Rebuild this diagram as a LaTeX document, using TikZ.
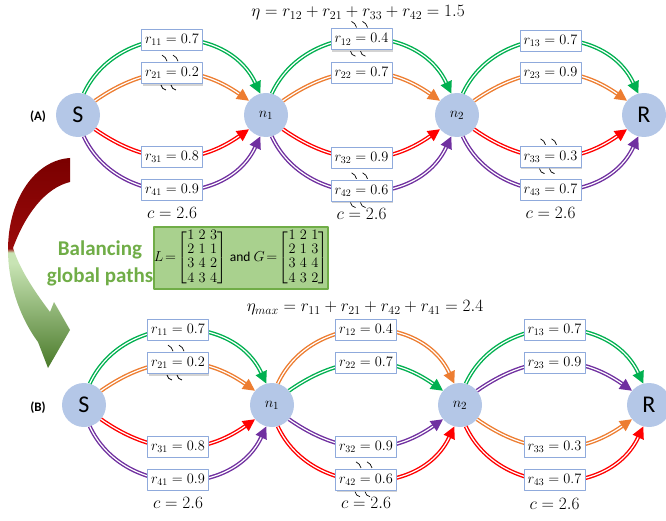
\documentclass[tikz,border=0pt]{standalone}
\usepackage{amsmath}
\usepackage{fontspec}
\setmainfont{Carlito}
\usetikzlibrary{arrows.meta,shadows,positioning}
\definecolor{grn}{HTML}{00B050}
\definecolor{org}{HTML}{ED7D31}
\definecolor{rd}{HTML}{FF0000}
\definecolor{pur}{HTML}{7030A0}
\definecolor{ndfill}{HTML}{B4C7E7}
\definecolor{boxc}{HTML}{8FAADC}
\definecolor{lgrn}{HTML}{A9D18E}
\definecolor{mgrn}{HTML}{70AD47}
\definecolor{dgrn}{HTML}{4A7A2A}
\definecolor{dred}{HTML}{7A0000}
\definecolor{pgrn}{HTML}{C8E4B4}
\definecolor{bred}{HTML}{9A0A0A}
\pgfdeclareverticalshading{bend}{100bp}{color(0bp)=(dgrn); color(25bp)=(dgrn); color(50bp)=(pgrn); color(52.5bp)=(pgrn); color(53.5bp)=(bred); color(75bp)=(dred); color(100bp)=(dred)}
\begin{document}
\begin{tikzpicture}[x=1pt, y=1pt, line join=round,
    nd/.style={circle, fill=ndfill, minimum size=44pt, inner sep=0pt, font=\fontsize{24}{26}\selectfont},
    lbl/.style={draw=boxc, fill=white, line width=0.8pt, inner sep=3.5pt, minimum height=21pt, font=\fontsize{14}{16}\selectfont},
    sel/.style={lbl, drop shadow={shadow xshift=1pt, shadow yshift=-2pt, opacity=.35}},
    ln/.style={draw=#1, line width=1.4pt, double=white, double distance=1.2pt, -{Triangle[length=12pt,width=12pt]}},
    clbl/.style={font=\fontsize{17}{19}\selectfont}]
  \useasboundingbox (0,0) rectangle (666,520);
  % nodes of both networks
  \foreach \nm/\x/\y/\txt in {aS/78/405/S, an1/266/405/{\fontsize{15}{17}\selectfont$n_1$}, an2/457/405/{\fontsize{15}{17}\selectfont$n_2$}, aR/644/405/R,
      bS/84/115/S, bn1/272/115/{\fontsize{15}{17}\selectfont$n_1$}, bn2/460/115/{\fontsize{15}{17}\selectfont$n_2$}, bR/649/115/R}
    \node[nd] (\nm) at (\x,\y) {\txt};
  % outer upper arcs
  \foreach \pa/\pb/\col/\sty/\bx/\txt in {aS/an1/grn/lbl/a11/{r_{11}=0.7}, an1/an2/grn/sel/a12/{r_{12}=0.4}, an2/aR/grn/lbl/a13/{r_{13}=0.7},
      bS/bn1/grn/lbl/b11/{r_{11}=0.7}, bn1/bn2/org/lbl/b12/{r_{12}=0.4}, bn2/bR/grn/lbl/b13/{r_{13}=0.7}}
    \draw[ln=\col] (\pa.75) to[out=65, in=115, looseness=1.14] node[\sty] (\bx) {$\txt$} (\pb.105);
  % inner upper arcs
  \foreach \pa/\pb/\col/\sty/\bx/\txt in {aS/an1/org/sel/a21/{r_{21}=0.2}, an1/an2/org/lbl/a22/{r_{22}=0.7}, an2/aR/org/lbl/a23/{r_{23}=0.9},
      bS/bn1/org/sel/b21/{r_{21}=0.2}, bn1/bn2/grn/lbl/b22/{r_{22}=0.7}, bn2/bR/pur/lbl/b23/{r_{23}=0.9}}
    \draw[ln=\col] (\pa.40) to[out=35, in=145, looseness=1.07] node[\sty] (\bx) {$\txt$} (\pb.140);
  % inner lower arcs
  \foreach \pa/\pb/\col/\sty/\bx/\txt in {aS/an1/rd/lbl/a31/{r_{31}=0.8}, an1/an2/rd/lbl/a32/{r_{32}=0.9}, an2/aR/rd/sel/a33/{r_{33}=0.3},
      bS/bn1/rd/lbl/b31/{r_{31}=0.8}, bn1/bn2/pur/lbl/b32/{r_{32}=0.9}, bn2/bR/org/lbl/b33/{r_{33}=0.3}}
    \draw[ln=\col] (\pa.-40) to[out=-35, in=-145, looseness=1.07] node[\sty] (\bx) {$\txt$} (\pb.-140);
  % outer lower arcs
  \foreach \pa/\pb/\col/\sty/\bx/\txt in {aS/an1/pur/lbl/a41/{r_{41}=0.9}, an1/an2/pur/sel/a42/{r_{42}=0.6}, an2/aR/pur/lbl/a43/{r_{43}=0.7},
      bS/bn1/pur/lbl/b41/{r_{41}=0.9}, bn1/bn2/rd/sel/b42/{r_{42}=0.6}, bn2/bR/rd/lbl/b43/{r_{43}=0.7}}
    \draw[ln=\col] (\pa.-75) to[out=-65, in=-115, looseness=1.14] node[\sty] (\bx) {$\txt$} (\pb.-105);
  % shaking marks on the chosen links
  \foreach \bx in {a21,a12,a42,a33,b21,b42} {
    \draw[line width=.7pt] ([xshift=-10pt,yshift=7pt]\bx.north) to[bend left=25] ++(5,-6)
      ([xshift=1pt,yshift=7pt]\bx.north) to[bend left=25] ++(5,-6);
    \draw[line width=.7pt] ([xshift=-11pt,yshift=-1pt]\bx.south) to[bend right=35] ++(5,-5)
      ([xshift=-1pt,yshift=-1pt]\bx.south) to[bend right=35] ++(5,-5);
  }
  \foreach \bx in {a41,a42,a43,b41,b42,b43}
    \node[clbl] at ([yshift=-12.5pt]\bx.south) {$c=2.6$};
  \node[clbl] (eta) at (358,507) {$\eta=r_{12}+r_{21}+r_{33}+r_{42}=1.5$};
  \node[clbl] (etam) at (365,212) {$\eta_{max}=r_{11}+r_{21}+r_{42}+r_{41}=2.4$};
  \node[font=\bfseries\fontsize{13}{15}\selectfont] (labA) at (38,403) {(A)};
  \node[font=\bfseries\fontsize{13}{15}\selectfont] (labB) at (38,112) {(B)};
  % bending arrow from (A) to (B)
  \shade[shading=bend] (70,362) .. controls (36,360) and (8,322) .. (8,270)
    .. controls (8,240) and (18,205) .. (38,178) -- (48,152) -- (70,190) -- (54,218) -- (50,208)
    .. controls (35,228) and (20,250) .. (13,272) .. controls (25,305) and (45,332) .. (70,338) -- cycle;
  \node[align=center, text=mgrn, font=\bfseries\fontsize{21}{27}\selectfont] (bal) at (100,257) {Balancing\\global paths};
  \node[draw=mgrn, fill=lgrn, line width=1.5pt, inner sep=0pt, minimum width=165pt, minimum height=62pt,
    font=\fontsize{13.5}{14.2}\selectfont] (mat) at (241,262)
    {\setlength{\arraycolsep}{2.2pt}$L\!=\!\begin{bmatrix}1&2&3\\2&1&1\\3&4&2\\4&3&4\end{bmatrix}$ and $G\!=\!\begin{bmatrix}1&2&1\\2&1&3\\3&4&4\\4&3&2\end{bmatrix}$};
\end{tikzpicture}
\end{document}
